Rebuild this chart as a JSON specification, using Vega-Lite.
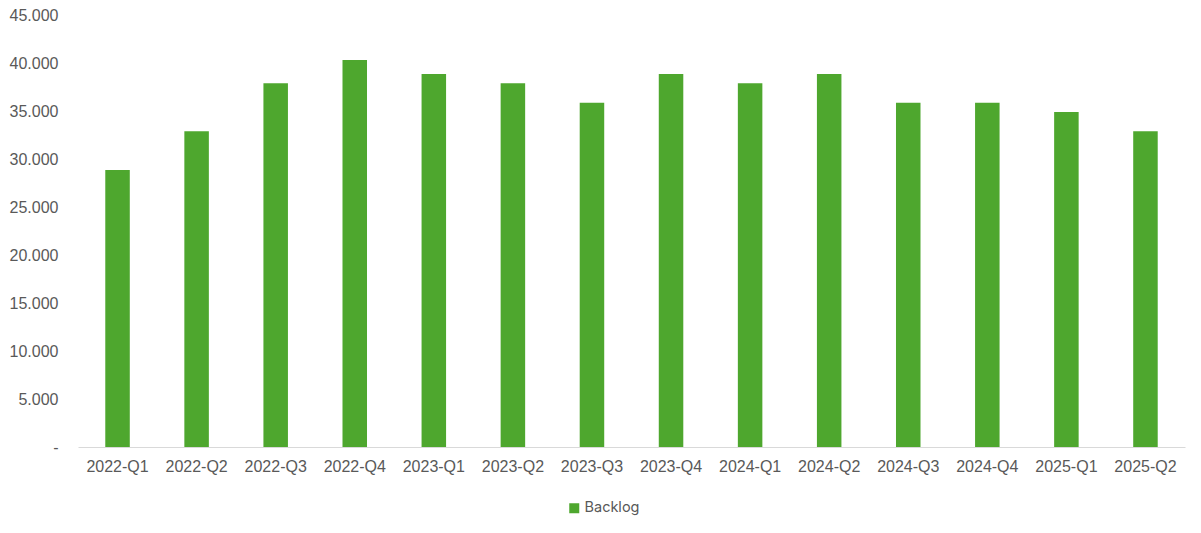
{
  "$schema": "https://vega.github.io/schema/vega-lite/v6.json",
  "width": 1107,
  "height": 432,
  "autosize": {"type": "none"},
  "padding": {"left": 78, "top": 15, "right": 16, "bottom": 86},
  "background": "white",
  "data": {
    "values": [
      {"quarter": "2022-Q1", "value": 28850, "series": "Backlog"},
      {"quarter": "2022-Q2", "value": 32900, "series": "Backlog"},
      {"quarter": "2022-Q3", "value": 37900, "series": "Backlog"},
      {"quarter": "2022-Q4", "value": 40300, "series": "Backlog"},
      {"quarter": "2023-Q1", "value": 38850, "series": "Backlog"},
      {"quarter": "2023-Q2", "value": 37900, "series": "Backlog"},
      {"quarter": "2023-Q3", "value": 35850, "series": "Backlog"},
      {"quarter": "2023-Q4", "value": 38850, "series": "Backlog"},
      {"quarter": "2024-Q1", "value": 37900, "series": "Backlog"},
      {"quarter": "2024-Q2", "value": 38850, "series": "Backlog"},
      {"quarter": "2024-Q3", "value": 35850, "series": "Backlog"},
      {"quarter": "2024-Q4", "value": 35850, "series": "Backlog"},
      {"quarter": "2025-Q1", "value": 34900, "series": "Backlog"},
      {"quarter": "2025-Q2", "value": 32900, "series": "Backlog"}
    ]
  },
  "mark": {"type": "bar"},
  "encoding": {
    "x": {
      "field": "quarter",
      "type": "nominal",
      "sort": null,
      "scale": {"paddingInner": 0.69, "paddingOuter": 0.345},
      "axis": {
        "title": null,
        "labelAngle": 0,
        "labelFont": "Liberation Sans",
        "labelFontSize": 16,
        "labelColor": "#595959",
        "labelPadding": 11,
        "ticks": false,
        "domainColor": "#d9d9d9",
        "domainWidth": 1
      }
    },
    "y": {
      "field": "value",
      "type": "quantitative",
      "scale": {"domain": [0, 45000], "nice": false},
      "axis": {
        "title": null,
        "values": [0, 5000, 10000, 15000, 20000, 25000, 30000, 35000, 40000, 45000],
        "labelExpr": "datum.value == 0 ? '-\u00a0\u00a0\u00a0' : replace(format(datum.value, ','), ',', '.')",
        "labelFont": "Liberation Sans",
        "labelFontSize": 16,
        "labelColor": "#595959",
        "labelPadding": 20,
        "ticks": false,
        "domain": false,
        "grid": false
      }
    },
    "color": {
      "field": "series",
      "type": "nominal",
      "scale": {"range": ["#4EA72E"]},
      "legend": {
        "title": null,
        "orient": "none",
        "legendX": 489,
        "legendY": 486,
        "padding": 0,
        "symbolType": "square",
        "symbolSize": 100,
        "symbolStrokeWidth": 0,
        "labelFont": "Inter",
        "labelFontSize": 14.5,
        "labelColor": "#595959",
        "labelOffset": 3
      }
    }
  },
  "config": {"view": {"stroke": null}}
}
